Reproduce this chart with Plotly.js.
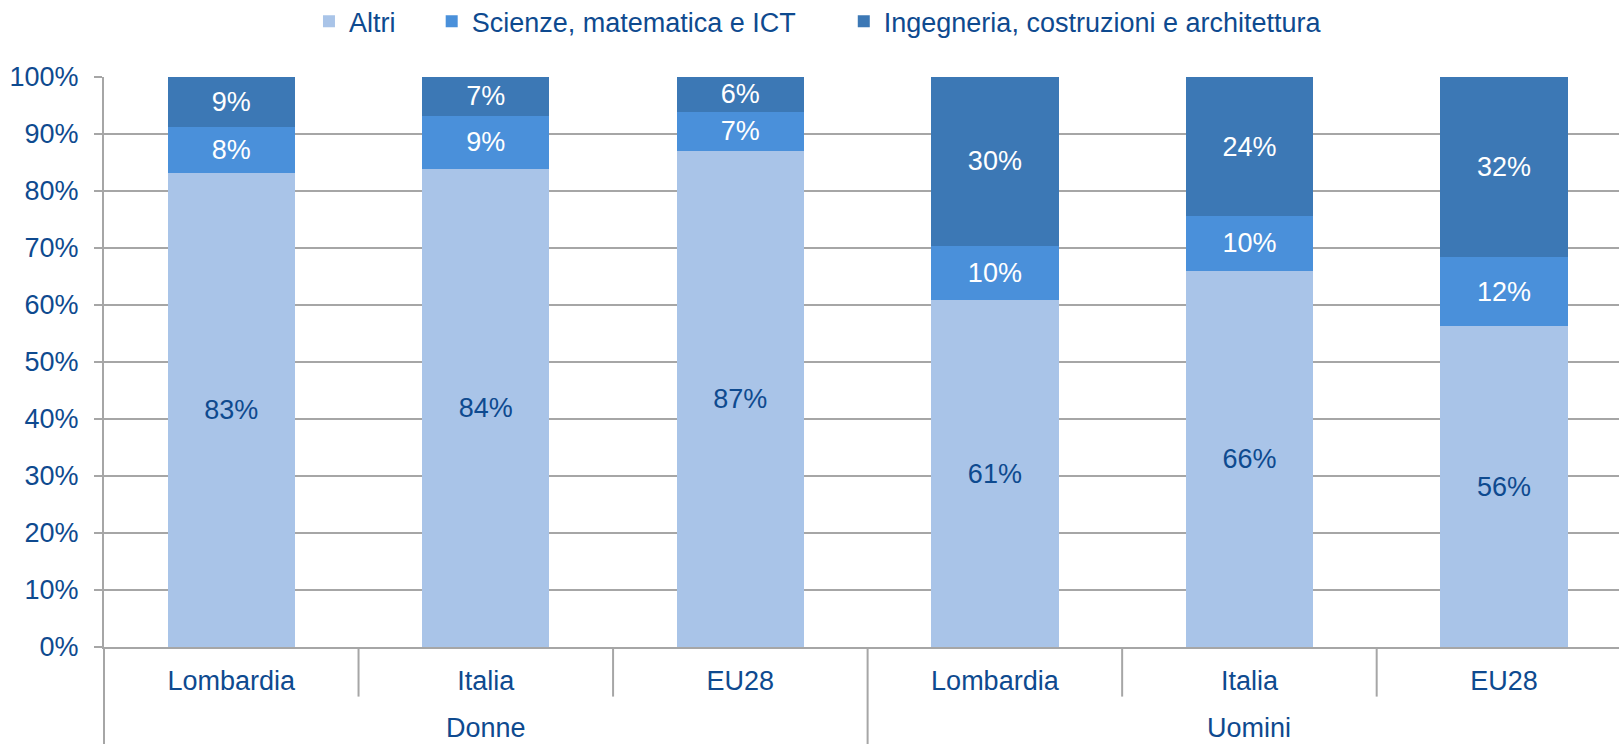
<!DOCTYPE html>
<html>
<head>
<meta charset="utf-8">
<script src="https://cdn.plot.ly/plotly-3.0.1.min.js"></script>
<style>
html,body{margin:0;padding:0;background:#fff;}
#chart{width:1619px;height:744px;}
</style>
</head>
<body>
<div id="chart"></div>
<script>
// Data
const groups = ["Donne", "Donne", "Donne", "Uomini", "Uomini", "Uomini"];
const places = ["Lombardia", "Italia", "EU28", "Lombardia", "Italia", "EU28"];
const altri = [83.2, 83.9, 87.0, 60.8, 66.0, 56.3];
const scienze = [8.0, 9.3, 6.9, 9.6, 9.6, 12.1];
const ingegneria = [8.8, 6.8, 6.1, 29.6, 24.4, 31.6];
const seriesNames = ["Altri", "Scienze, matematica e ICT", "Ingegneria, costruzioni e architettura"];

const FONT = "Arial, 'Liberation Sans', sans-serif";
const TXT = "#0E4A8F";
const GRID = "#A6A6A6";
const FS = 27;

const idx = places.map((_, i) => i);
const xr = [-0.5, 5.452];
const toPaper = v => (v - xr[0]) / (xr[1] - xr[0]);

function bar(name, y, color, textColor, legendId) {
  return {
    type: "bar",
    name: name,
    x: idx,
    y: y,
    marker: {color: color, line: {width: 0}},
    texttemplate: "%{y:.0f}%",
    textposition: "inside",
    insidetextanchor: "middle",
    constraintext: "none",
    textangle: 0,
    textfont: {family: FONT, size: FS, color: textColor},
    hoverinfo: "skip",
    legend: legendId
  };
}

const data = [
  bar(seriesNames[0], altri, "#A9C4E8", TXT, "legend"),
  bar(seriesNames[1], scienze, "#4A90DA", "#FFFFFF", "legend2"),
  bar(seriesNames[2], ingegneria, "#3C78B5", "#FFFFFF", "legend3")
];

// dividers: short ones between sub-categories, long ones between groups
const shapes = [];
const addDiv = (v, yb) => {
  const xp = toPaper(v);
  shapes.push({type: "line", xref: "paper", yref: "paper", x0: xp, x1: xp, y0: 0, y1: yb,
    line: {color: GRID, width: 2}});
};
addDiv(-0.5, -0.175);
for (let i = 0; i < places.length - 1; i++) {
  addDiv(i + 0.5, groups[i] === groups[i + 1] ? -0.087 : -0.175);
}

// group labels (second level of the category axis)
const annotations = [];
const uniq = [...new Set(groups)];
uniq.forEach(g => {
  const members = idx.filter(i => groups[i] === g);
  const c = (members[0] + members[members.length - 1]) / 2;
  annotations.push({text: g, x: c, xref: "x", y: -0.1414, yref: "paper",
    xanchor: "center", yanchor: "middle", showarrow: false, borderpad: 0,
    font: {family: FONT, size: FS, color: TXT}});
});

const legendBase = {
  orientation: "h", yanchor: "middle", y: 1.097, xanchor: "left",
  font: {family: FONT, size: FS, color: TXT}, bgcolor: "rgba(0,0,0,0)", traceorder: "normal"
};

const layout = {
  width: 1619, height: 744,
  margin: {l: 104, r: 0, t: 77, b: 97, autoexpand: false},
  paper_bgcolor: "#FFFFFF", plot_bgcolor: "#FFFFFF",
  font: {family: FONT, size: FS, color: TXT},
  barmode: "stack",
  bargap: 0.5,
  showlegend: true,
  legend: Object.assign({}, legendBase, {x: 0.1353}),
  legend2: Object.assign({}, legendBase, {x: 0.2163}),
  legend3: Object.assign({}, legendBase, {x: 0.4883}),
  xaxis: {
    type: "linear",
    range: xr,
    tickmode: "array",
    tickvals: idx,
    ticktext: places,
    showgrid: false,
    zeroline: false,
    showline: true, linecolor: GRID, linewidth: 2,
    ticks: "",
    ticklabelstandoff: 9,
    automargin: false,
    tickfont: {family: FONT, size: FS, color: TXT}
  },
  yaxis: {
    range: [0, 100],
    dtick: 10,
    ticksuffix: "%",
    showgrid: true, gridcolor: GRID, gridwidth: 2,
    zeroline: false,
    showline: true, linecolor: GRID, linewidth: 2,
    ticks: "outside", ticklen: 8, tickwidth: 2, tickcolor: GRID,
    ticklabelstandoff: 10,
    automargin: false,
    tickfont: {family: FONT, size: FS, color: TXT}
  },
  shapes: shapes,
  annotations: annotations
};

Plotly.newPlot("chart", data, layout, {displayModeBar: false, staticPlot: true});
</script>
</body>
</html>
